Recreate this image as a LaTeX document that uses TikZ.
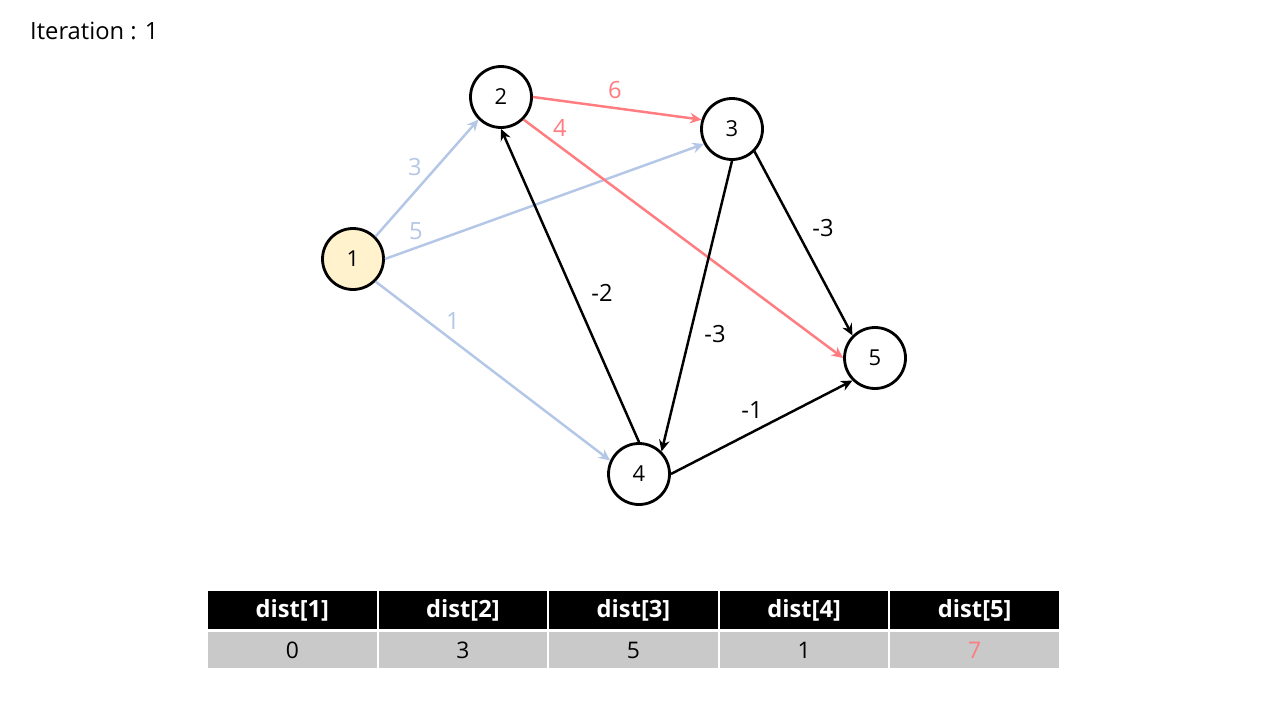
\documentclass[tikz,border=0pt]{standalone}
\usepackage{fontspec}
\setmainfont{Open Sans}
\usetikzlibrary{arrows.meta}
\definecolor{edgeblue}{HTML}{B4C7E7}
\definecolor{edgered}{HTML}{FF7C80}
\definecolor{startfill}{HTML}{FFF2CC}
\definecolor{cellgray}{HTML}{C9C9C9}
\tikzset{
  vertex/.style={circle, draw=black, line width=1.6pt, fill=white,
    minimum size=1.22cm, inner sep=0pt, font=\fontsize{12.5}{14}\selectfont},
  edge/.style={line width=1.4pt, -{Stealth[length=6.5pt,width=6pt]}},
  weight/.style={inner sep=1pt, font=\fontsize{13.5}{15}\selectfont},
  headcell/.style={fill=black, text=white, minimum width=3.37cm, minimum height=0.76cm,
    inner sep=0pt, font=\fontsize{13.5}{15}\selectfont\bfseries},
  valcell/.style={fill=cellgray, minimum width=3.37cm, minimum height=0.72cm,
    inner sep=0pt, font=\fontsize{13}{15}\selectfont}
}

\begin{document}
\begin{tikzpicture}[x=0.02cm, y=-0.02cm]
\useasboundingbox[fill=white] (0,0) rectangle (1280,720);

\node[anchor=west, font=\fontsize{13.5}{15}\selectfont] (iter) at (24,31) {Iteration : 1};

% vertices
\node[vertex, fill=startfill] (v1) at (353,259) {1};
\node[vertex] (v2) at (501,97) {2};
\node[vertex] (v3) at (732,129) {3};
\node[vertex] (v4) at (639,474) {4};
\node[vertex] (v5) at (875,358) {5};

% edges out of the start vertex
\draw[edge, edgeblue] (v1.north east) -- (v2.south west);
\draw[edge, edgeblue] (v1.east) -- (v3.208);
\draw[edge, edgeblue] (v1.south east) -- (v4.155);
% relaxed edges
\draw[edge, edgered] (v2.east) -- (v3.163);
\draw[edge, edgered] (v2.south east) -- (v5.west);
% remaining edges
\draw[edge] (v4.north) -- (v2.south);
\draw[edge] (v3.south) -- (v4.north east);
\draw[edge] (v3.south east) -- (v5.north west);
\draw[edge] (v4.east) -- (v5.south west);

% weights
\node[weight, text=edgeblue] (w12) at (415,167) {3};
\node[weight, text=edgeblue] (w13) at (416,231) {5};
\node[weight, text=edgeblue] (w14) at (453,321) {1};
\node[weight, text=edgered] (w23) at (615,90) {6};
\node[weight, text=edgered] (w25) at (560,128) {4};
\node[weight] (w42) at (602,293) {-2};
\node[weight] (w34) at (715,334) {-3};
\node[weight] (w35) at (823,228) {-3};
\node[weight] (w45) at (752,410) {-1};

% distance table
\foreach \i/\d in {1/0, 2/3, 3/5, 4/1} {
  \node[headcell] (h\i) at (207+170.6*\i-85.3,610) {dist[\i]};
  \node[valcell] (d\i) at (207+170.6*\i-85.3,650) {\d};
}
\node[headcell] (h5) at (974.7,610) {dist[5]};
\node[valcell, text=edgered] (d5) at (974.7,650) {7};
\end{tikzpicture}
\end{document}
